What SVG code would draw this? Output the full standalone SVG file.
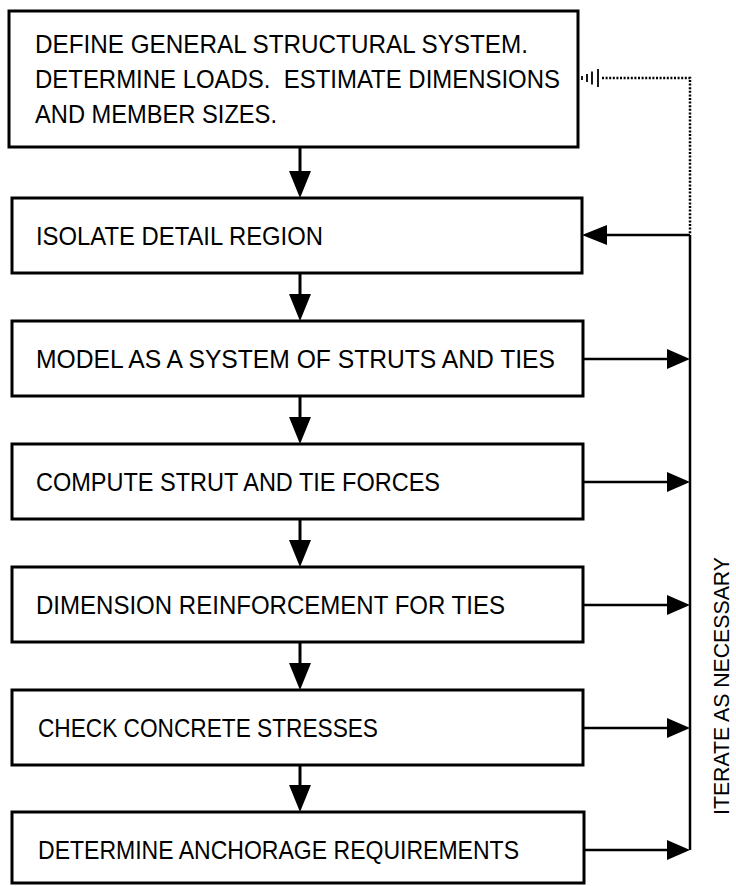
<svg xmlns="http://www.w3.org/2000/svg" width="736" height="886" viewBox="0 0 736 886">
<style>
.box{fill:#fff;stroke:#000;stroke-width:3}
.t{font-family:"Liberation Sans",Arial,sans-serif;font-size:26px;fill:#000}
.ln{stroke:#000;stroke-width:2.5;fill:none}
.sh{stroke:#000;stroke-width:3;fill:none}
.dot{stroke:#000;stroke-width:2.5;fill:none;stroke-dasharray:2 1.6}
.hd{fill:#000}
</style>
<rect width="736" height="886" fill="#fff"/>
<g id="connectors">
<line class="sh" x1="300" y1="147" x2="300" y2="175"/><polygon class="hd" points="289,171 311,171 300,198"/>
<line class="sh" x1="300" y1="273" x2="300" y2="298"/><polygon class="hd" points="289,294 311,294 300,321"/>
<line class="sh" x1="300" y1="396" x2="300" y2="421"/><polygon class="hd" points="289,417 311,417 300,444"/>
<line class="sh" x1="300" y1="519" x2="300" y2="544"/><polygon class="hd" points="289,540 311,540 300,567"/>
<line class="sh" x1="300" y1="642" x2="300" y2="667"/><polygon class="hd" points="289,663 311,663 300,690"/>
<line class="sh" x1="300" y1="765" x2="300" y2="789"/><polygon class="hd" points="289,785 311,785 300,812"/>
<line class="ln" x1="690" y1="235" x2="690" y2="850"/>
<line class="ln" x1="690" y1="235" x2="600" y2="235"/><polygon class="hd" points="582,235 607,225 607,245"/>
<line class="ln" x1="583" y1="359" x2="670" y2="359"/><polygon class="hd" points="690,359 667,349 667,369"/>
<line class="ln" x1="583" y1="482" x2="670" y2="482"/><polygon class="hd" points="690,482 667,472 667,492"/>
<line class="ln" x1="583" y1="605" x2="670" y2="605"/><polygon class="hd" points="690,605 667,595 667,615"/>
<line class="ln" x1="583" y1="728" x2="670" y2="728"/><polygon class="hd" points="690,728 667,718 667,738"/>
<line class="ln" x1="583" y1="850" x2="670" y2="850"/><polygon class="hd" points="690,850 667,840 667,860"/>
<polyline class="dot" points="602,78 690,78 690,234"/>
<g stroke="#000" stroke-width="1.8">
<line x1="582" y1="76" x2="582" y2="80"/>
<line x1="587" y1="74" x2="587" y2="82"/>
<line x1="592" y1="71.5" x2="592" y2="84.5"/>
<line x1="598" y1="69" x2="598" y2="87"/>
</g>
</g>
<g id="n1"><rect class="box" x="9" y="11" width="569" height="136"/>
<text class="t" x="35" y="53" textLength="493" lengthAdjust="spacingAndGlyphs">DEFINE GENERAL STRUCTURAL SYSTEM.</text>
<text class="t" x="35" y="88" textLength="525" lengthAdjust="spacingAndGlyphs" xml:space="preserve">DETERMINE LOADS.  ESTIMATE DIMENSIONS</text>
<text class="t" x="35" y="123" textLength="242" lengthAdjust="spacingAndGlyphs">AND MEMBER SIZES.</text></g>
<g id="n2"><rect class="box" x="12" y="198" width="570" height="75"/>
<text class="t" x="36" y="245" textLength="287" lengthAdjust="spacingAndGlyphs">ISOLATE DETAIL REGION</text></g>
<g id="n3"><rect class="box" x="12" y="321" width="571" height="75"/>
<text class="t" x="36" y="368" textLength="519" lengthAdjust="spacingAndGlyphs">MODEL AS A SYSTEM OF STRUTS AND TIES</text></g>
<g id="n4"><rect class="box" x="12" y="444" width="571" height="75"/>
<text class="t" x="36" y="491" textLength="404" lengthAdjust="spacingAndGlyphs">COMPUTE STRUT AND TIE FORCES</text></g>
<g id="n5"><rect class="box" x="12" y="567" width="571" height="75"/>
<text class="t" x="36" y="614" textLength="469" lengthAdjust="spacingAndGlyphs">DIMENSION REINFORCEMENT FOR TIES</text></g>
<g id="n6"><rect class="box" x="12" y="690" width="571" height="75"/>
<text class="t" x="38" y="737" textLength="340" lengthAdjust="spacingAndGlyphs">CHECK CONCRETE STRESSES</text></g>
<g id="n7"><rect class="box" x="12" y="812" width="572" height="71"/>
<text class="t" x="38" y="859" textLength="481" lengthAdjust="spacingAndGlyphs">DETERMINE ANCHORAGE REQUIREMENTS</text></g>
<g id="label"><text class="t" style="font-size:22px" transform="translate(729,815) rotate(-90)" textLength="258" lengthAdjust="spacingAndGlyphs">ITERATE AS NECESSARY</text></g>
</svg>
